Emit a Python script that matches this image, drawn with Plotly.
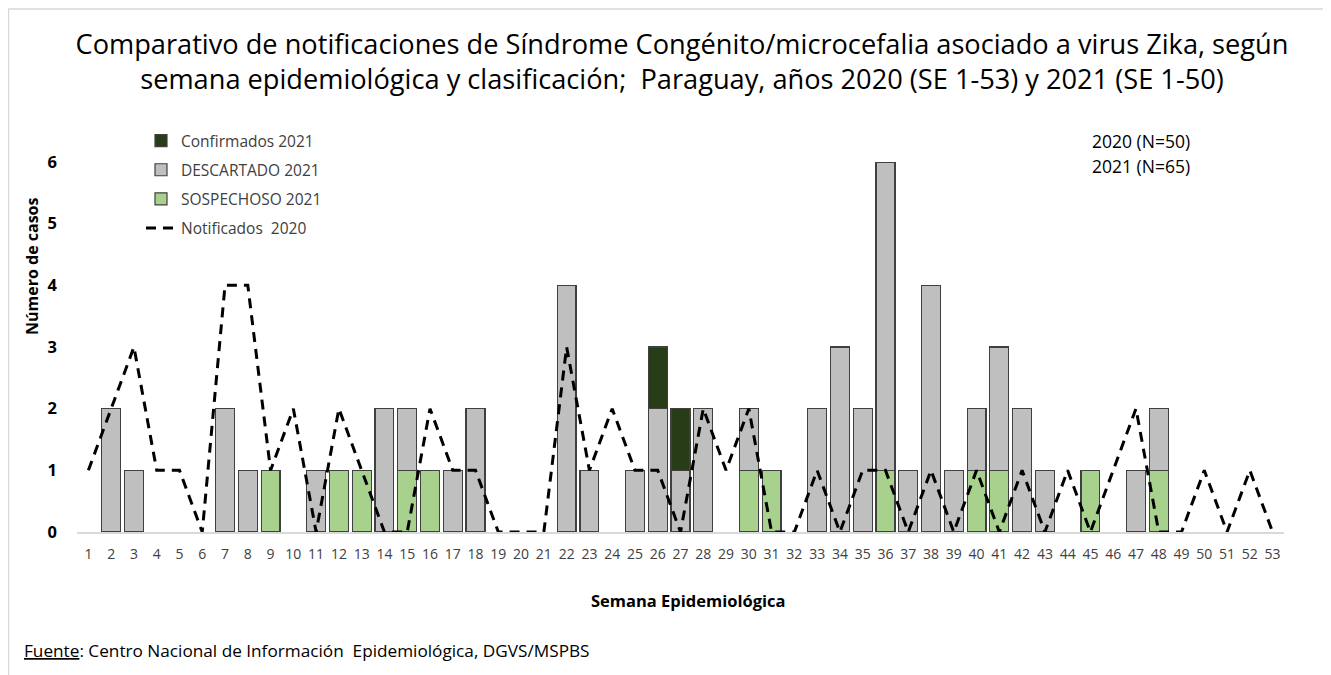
import plotly.graph_objects as go

weeks = list(range(1, 54))
weeks_2021 = list(range(1, 51))

# 2021 classification (weeks 1-50)
sospechoso_2021 = [0,0,0,0,0,0,0,0,1,0, 0,1,1,0,1,1,0,0,0,0, 0,0,0,0,0,0,0,0,0,1,
                   1,0,0,0,0,1,0,0,0,1, 1,0,0,0,1,0,0,1,0,0]
descartado_2021 = [0,2,1,0,0,0,2,1,0,0, 1,0,0,2,1,0,1,2,0,0, 0,4,1,0,1,2,1,2,0,1,
                   0,0,2,3,2,5,1,4,1,1, 2,2,1,0,0,0,1,1,0,0]
confirmados_2021 = [0]*25 + [1,1] + [0]*23

# 2020 notified (weeks 1-53)
notificados_2020 = [1,2,3,1,1,0,4,4,1,2, 0,2,1,0,0,2,1,1,0,0, 0,3,1,2,1,1,0,2,1,2,
                    0,0,1,0,1,1,0,1,0,1, 0,1,0,1,0,1,2,0,0,1, 0,1,0]

title_text = ("Comparativo de notificaciones de Síndrome Congénito/microcefalia asociado a virus Zika, según<br>"
              "semana epidemiológica y clasificación;  Paraguay, años 2020 (SE 1-53) y 2021 (SE 1-50)")

FONT = "Open Sans"
OUTLINE = "#404040"

# figure geometry (figure pixel coords; page adds 8px body margin)
W, H = 1323, 667
L, R, T, B = 69, 1276, 154, 524

def px2paper_x(px):
    return (px - L) / (R - L)
def px2paper_y(py):
    return (B - py) / (B - T)

def nz(vals):
    return [v if v else None for v in vals]

fig = go.Figure()
fig.add_trace(go.Bar(x=weeks_2021, y=nz(sospechoso_2021), name="SOSPECHOSO 2021",
                     marker=dict(color="#a9d18e", line=dict(color=OUTLINE, width=1.2)),
                     legendrank=3, legendgroup="s"))
fig.add_trace(go.Bar(x=weeks_2021, y=nz(descartado_2021), name="DESCARTADO 2021",
                     marker=dict(color="#bfbfbf", line=dict(color=OUTLINE, width=1.2)),
                     legendrank=2, legendgroup="d"))
fig.add_trace(go.Bar(x=weeks_2021, y=nz(confirmados_2021), name="Confirmados 2021",
                     marker=dict(color="#263d18", line=dict(color=OUTLINE, width=1.2)),
                     legendrank=1, legendgroup="c"))
fig.add_trace(go.Scatter(x=weeks, y=notificados_2020, name="Notificados  2020", mode="lines",
                         line=dict(color="black", width=3, dash="10px,7px"),
                         legendrank=4, legendgroup="n"))

annotations = [
    dict(text="2020 (N=50)", px=1082, py=133, xanchor="left", size=17.5, color="black", angle=0),
    dict(text="2021 (N=65)", px=1082, py=158, xanchor="left", size=17.5, color="black", angle=0),
    dict(text="<b>Número de casos</b>", px=24, py=258, xanchor="center", size=16, color="black", angle=-90),
    dict(text="<b>Semana Epidemiológica</b>", px=680, py=592, xanchor="center", size=16.5, color="black", angle=0),
    dict(text="<u>Fuente</u>: Centro Nacional de Información  Epidemiológica, DGVS/MSPBS",
         px=14, py=642, xanchor="left", size=17.2, color="black", angle=0),
]

fig.update_layout(
    width=W, height=H,
    margin=dict(l=L, r=W - R, t=T, b=H - B, autoexpand=False),
    paper_bgcolor="white", plot_bgcolor="white",
    barmode="stack", bargap=0.17,
    font=dict(family=FONT, color="#404040"),
    title=dict(text=title_text, x=674 / W, xanchor="center", y=1 - 46 / H, yanchor="top",
               font=dict(family=FONT, size=27.2, color="black")),
    showlegend=True,
    legend=dict(x=px2paper_x(133), y=px2paper_y(116), xanchor="left", yanchor="top",
                bgcolor="rgba(0,0,0,0)", tracegroupgap=6,
                font=dict(family=FONT, size=15.5, color="#404040")),
    xaxis=dict(range=[0.5, 53.5], tickmode="array", tickvals=weeks,
               ticktext=[str(w) for w in weeks], showgrid=False, zeroline=False,
               showline=True, linecolor="#d9d9d9", linewidth=1.5,
               ticks="", ticklabelstandoff=8,
               tickfont=dict(family=FONT, size=14, color="#404040"),
               tickangle=0),
    yaxis=dict(range=[0, 6], tickmode="array", tickvals=[0, 1, 2, 3, 4, 5, 6],
               showgrid=False, zeroline=False, showline=False, ticks="",
               ticklabelstandoff=19,
               tickfont=dict(family=FONT, size=16.5, color="black", weight="bold")),
    annotations=[
        dict(text=a["text"], x=px2paper_x(a["px"]), y=px2paper_y(a["py"]),
             xref="paper", yref="paper", showarrow=False,
             xanchor=a["xanchor"], yanchor="middle", textangle=a["angle"],
             font=dict(family=FONT, size=a["size"], color=a["color"]))
        for a in annotations
    ],
)

# outer chart border (light gray)
fig.add_shape(type="rect", xref="paper", yref="paper",
              x0=px2paper_x(0.5), x1=px2paper_x(1317), y0=px2paper_y(720), y1=px2paper_y(1),
              line=dict(color="#d9d9d9", width=1.5), fillcolor="rgba(0,0,0,0)", layer="below")

fig.write_html("out.html")
